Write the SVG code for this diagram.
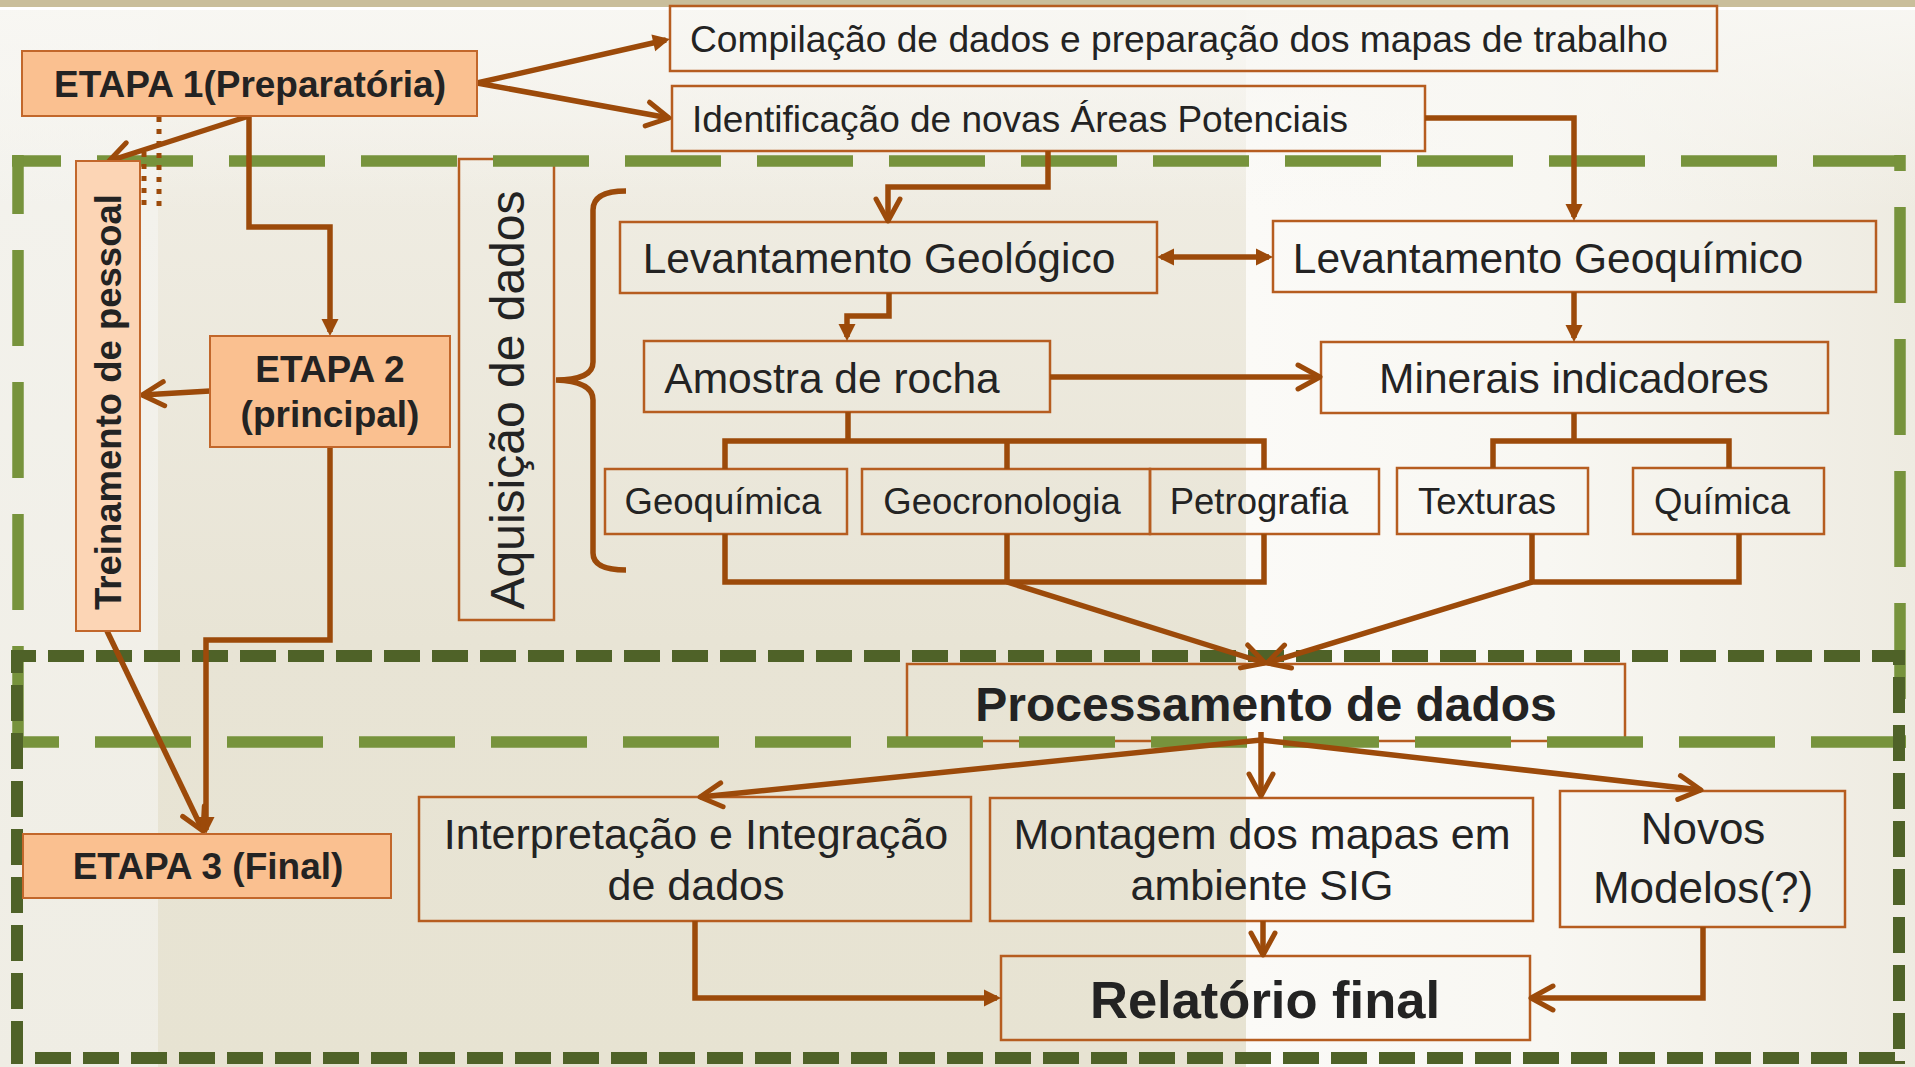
<svg xmlns="http://www.w3.org/2000/svg" width="1915" height="1067" viewBox="0 0 1915 1067">
<defs>
<linearGradient id="gMid" x1="0" y1="0" x2="0" y2="1">
<stop offset="0" stop-color="#f4f2ec"/>
<stop offset="0.18" stop-color="#efece2"/>
<stop offset="0.6" stop-color="#e8e4d5"/>
<stop offset="1" stop-color="#e7e3d2"/>
</linearGradient>
<linearGradient id="gRight" x1="0" y1="0" x2="1" y2="0">
<stop offset="0" stop-color="#fbfaf7"/>
<stop offset="0.45" stop-color="#f8f7f2"/>
<stop offset="1" stop-color="#eeebe1"/>
</linearGradient>
<linearGradient id="gLeft" x1="0" y1="0" x2="0" y2="1">
<stop offset="0" stop-color="#f4f3ee"/>
<stop offset="1" stop-color="#efede4"/>
</linearGradient>
<linearGradient id="gTop" x1="0" y1="0" x2="0" y2="1">
<stop offset="0" stop-color="#f8f7f3" stop-opacity="0.95"/>
<stop offset="1" stop-color="#f8f7f3" stop-opacity="0"/>
</linearGradient>
<marker id="chev" markerUnits="userSpaceOnUse" markerWidth="30" markerHeight="30" refX="0" refY="0" orient="auto" overflow="visible">
<path d="M-22,-12 L0,0 L-22,12" fill="none" stroke="#9c4a0a" stroke-width="5" stroke-linecap="round" stroke-linejoin="round"/>
</marker>
<marker id="tri" markerUnits="userSpaceOnUse" markerWidth="20" markerHeight="20" refX="0" refY="0" orient="auto-start-reverse" overflow="visible">
<path d="M-13,-8.5 L4,0 L-13,8.5 z" fill="#9c4a0a"/>
</marker>
</defs>
<style>
.bx{fill:none;stroke:#b65d20;stroke-width:2.5}
.pc{fill:#fac090;stroke:#c2672b;stroke-width:2}
.pc2{fill:#fcd5b5;stroke:#c2672b;stroke-width:2}
.t{font-family:'Liberation Sans',Arial,sans-serif;fill:#232323}
.b{font-weight:bold}
.c{fill:none;stroke:#9c4a0a;stroke-width:5.5;stroke-linejoin:miter}
.lg{fill:none;stroke:#77933c;stroke-width:11.5;stroke-dasharray:96 36}
.dg{fill:none;stroke:#4f6228;stroke-width:12;stroke-dasharray:36 12}
</style>
<g id="background">
<rect x="0" y="0" width="1915" height="1067" fill="url(#gLeft)"/>
<rect x="158" y="0" width="1088" height="1067" fill="url(#gMid)"/>
<rect x="1246" y="0" width="669" height="1067" fill="url(#gRight)"/>
<rect x="0" y="10" width="1915" height="200" fill="url(#gTop)"/>
<rect x="0" y="0" width="1915" height="7" fill="#c9be9b"/>
<rect x="0" y="7" width="1915" height="3" fill="#ffffff"/>
</g>
<g id="white-boxes">
<rect id="box-compilacao" class="bx" x="670" y="6" width="1047" height="65"/>
<rect id="box-identificacao" class="bx" x="672" y="86" width="753" height="65"/>
<rect id="box-aquisicao" class="bx" x="459" y="159" width="95" height="461"/>
<rect id="box-lev-geologico" class="bx" x="620" y="222" width="537" height="71"/>
<rect id="box-lev-geoquimico" class="bx" x="1273" y="221" width="603" height="71"/>
<rect id="box-amostra" class="bx" x="644" y="341" width="406" height="71"/>
<rect id="box-minerais" class="bx" x="1321" y="342" width="507" height="71"/>
<rect id="box-geoquimica" class="bx" x="605" y="469" width="242" height="65"/>
<rect id="box-geocronologia" class="bx" x="862" y="469" width="288" height="65"/>
<rect id="box-petrografia" class="bx" x="1150" y="469" width="229" height="65"/>
<rect id="box-texturas" class="bx" x="1397" y="468" width="191" height="66"/>
<rect id="box-quimica" class="bx" x="1633" y="468" width="191" height="66"/>
<rect id="box-processamento" class="bx" x="907" y="664" width="718" height="77"/>
<rect id="box-interpretacao" class="bx" x="419" y="797" width="552" height="124"/>
<rect id="box-montagem" class="bx" x="990" y="798" width="543" height="123"/>
<rect id="box-novos" class="bx" x="1560" y="791" width="285" height="136"/>
<rect id="box-relatorio" class="bx" x="1001" y="956" width="529" height="84"/>
</g>
<g id="frames">
<path class="lg" d="M12,161 H1905" stroke-dashoffset="47"/>
<path class="lg" d="M1900,155 V748" stroke-dashoffset="80"/>
<path class="lg" d="M12,742 H1906" stroke-dashoffset="49"/>
<path class="lg" d="M18,155 V748" stroke-dashoffset="37"/>
<path class="dg" d="M11,656 H1905" stroke-dashoffset="11"/>
<path class="dg" d="M1899,650 V1064" stroke-dashoffset="21"/>
<path class="dg" d="M11,1058 H1905" stroke-dashoffset="24"/>
<path class="dg" d="M17,650 V1064" stroke-dashoffset="13"/>
</g>
<g id="connectors">
<path class="c" d="M477,83 L666,40" marker-end="url(#tri)"/>
<path class="c" d="M477,83 L669,118" marker-end="url(#chev)"/>
<path class="c" d="M249,116 L109,161" stroke-width="5" marker-end="url(#chev)"/>
<path class="c" d="M249,116 V227 H330 V332" stroke-width="5" marker-end="url(#tri)"/>
<path d="M159,117 V206" fill="none" stroke="#9c4a0a" stroke-width="5" stroke-dasharray="5 7"/>
<path d="M144,152 V205" fill="none" stroke="#9c4a0a" stroke-width="5" stroke-dasharray="5 7"/>
<path class="c" d="M210,391 L142,395" stroke-width="5" marker-end="url(#chev)"/>
<path class="c" d="M330,447 V640 H206 V830" stroke-width="5" marker-end="url(#tri)"/>
<path class="c" d="M107,631 L203,831" stroke-width="4.5" marker-end="url(#chev)"/>
<path class="c" d="M1048,151 V187 H888 V221" marker-end="url(#chev)"/>
<path class="c" d="M1425,118 H1574 V217" marker-end="url(#tri)"/>
<path class="c" d="M1161,257 H1269" marker-start="url(#tri)" marker-end="url(#tri)"/>
<path class="c" d="M889,293 V316 H847 V337" marker-end="url(#tri)"/>
<path class="c" d="M1574,292 V338" marker-end="url(#tri)"/>
<path class="c" d="M1050,377 H1320" stroke-width="6.5" marker-end="url(#chev)"/>
<path class="c" d="M725,469 V441 H1264 V469 M848,412 V441 M1007,441 V469"/>
<path class="c" d="M725,534 V582 H1264 V534 M1007,534 V582"/>
<path class="c" d="M1007,582 L1265,663" marker-end="url(#chev)"/>
<path class="c" d="M1574,413 V441 M1493,468 V441 H1729 V468"/>
<path class="c" d="M1532,534 V582 H1739 V534"/>
<path class="c" d="M1532,582 L1267,663" marker-end="url(#chev)"/>
<path class="c" d="M1261,740 L700,797" marker-end="url(#chev)"/>
<path class="c" d="M1261,732 V796" marker-end="url(#chev)"/>
<path class="c" d="M1261,740 L1701,790" marker-end="url(#chev)"/>
<path class="c" d="M695,921 V998 H997" marker-end="url(#tri)"/>
<path class="c" d="M1263,921 V955" marker-end="url(#chev)"/>
<path class="c" d="M1703,927 V998 H1531" marker-end="url(#chev)"/>
<path class="c" d="M626,191 C606,191 593,196 593,210 V362 C593,374 582,380 556,380 C582,381 593,388 593,400 V553 C593,566 606,570 626,570"/>
</g>
<g id="node-etapa1">
<rect class="pc" x="22" y="51" width="455" height="65"/>
<text class="t b" x="250" y="97" font-size="37" text-anchor="middle">ETAPA 1(Preparatória)</text>
</g>
<g id="node-treinamento">
<rect class="pc2" x="76" y="161" width="64" height="470"/>
<text class="t b" transform="translate(121,402) rotate(-90)" font-size="36.5" text-anchor="middle">Treinamento de pessoal</text>
</g>
<g id="node-etapa2">
<rect class="pc" x="210" y="336" width="240" height="111"/>
<text class="t b" x="330" y="382" font-size="37" text-anchor="middle">ETAPA 2</text>
<text class="t b" x="330" y="427" font-size="37" text-anchor="middle">(principal)</text>
</g>
<g id="node-etapa3">
<rect class="pc" x="23" y="834" width="368" height="64"/>
<text class="t b" x="208" y="879" font-size="37" text-anchor="middle">ETAPA 3 (Final)</text>
</g>
<g id="node-compilacao"><text class="t" x="690" y="52" font-size="37.2">Compilação de dados e preparação dos mapas de trabalho</text></g>
<g id="node-identificacao"><text class="t" x="692" y="132" font-size="37">Identificação de novas Áreas Potenciais</text></g>
<g id="node-aquisicao"><text class="t" transform="translate(524,400) rotate(-90)" font-size="48" text-anchor="middle">Aquisição de dados</text></g>
<g id="node-lev-geologico"><text class="t" x="879" y="273" font-size="42.5" text-anchor="middle">Levantamento Geológico</text></g>
<g id="node-lev-geoquimico"><text class="t" x="1548" y="273" font-size="42.5" text-anchor="middle">Levantamento Geoquímico</text></g>
<g id="node-amostra"><text class="t" x="832" y="393" font-size="42.5" text-anchor="middle">Amostra de rocha</text></g>
<g id="node-minerais"><text class="t" x="1574" y="393" font-size="42.5" text-anchor="middle">Minerais indicadores</text></g>
<g id="node-geoquimica"><text class="t" x="723" y="514" font-size="36.5" text-anchor="middle">Geoquímica</text></g>
<g id="node-geocronologia"><text class="t" x="1002" y="514" font-size="36.5" text-anchor="middle">Geocronologia</text></g>
<g id="node-petrografia"><text class="t" x="1259" y="514" font-size="36.5" text-anchor="middle">Petrografia</text></g>
<g id="node-texturas"><text class="t" x="1487" y="514" font-size="36.5" text-anchor="middle">Texturas</text></g>
<g id="node-quimica"><text class="t" x="1722" y="514" font-size="36.5" text-anchor="middle">Química</text></g>
<g id="node-processamento"><text class="t b" x="1266" y="721" font-size="48" text-anchor="middle">Processamento de dados</text></g>
<g id="node-interpretacao">
<text class="t" x="696" y="849" font-size="43" text-anchor="middle">Interpretação e Integração</text>
<text class="t" x="696" y="900" font-size="43" text-anchor="middle">de dados</text>
</g>
<g id="node-montagem">
<text class="t" x="1262" y="849" font-size="43" text-anchor="middle">Montagem dos mapas em</text>
<text class="t" x="1262" y="900" font-size="43" text-anchor="middle">ambiente SIG</text>
</g>
<g id="node-novos">
<text class="t" x="1703" y="844" font-size="44" text-anchor="middle">Novos</text>
<text class="t" x="1703" y="903" font-size="44" text-anchor="middle">Modelos(?)</text>
</g>
<g id="node-relatorio"><text class="t b" x="1265" y="1018" font-size="52.5" text-anchor="middle">Relatório final</text></g>
</svg>
